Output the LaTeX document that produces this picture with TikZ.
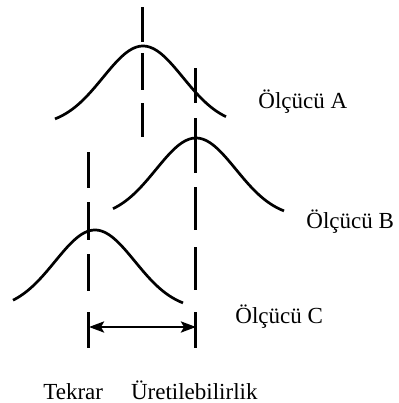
\documentclass[tikz,border=0pt]{standalone}
\usepackage{fontspec}
\setmainfont{Liberation Serif}
\usepackage{tikz}
\usetikzlibrary{arrows.meta,positioning}

\begin{document}
\begin{tikzpicture}[
    x=0.5pt, y=-0.5pt,
    bell/.style={line width=1.35pt, line join=round},
    guide/.style={line width=1.5pt},
    span/.style={line width=1.35pt, {Stealth[length=7.5pt,width=5.5pt,inset=1.5pt]}-{Stealth[length=7.5pt,width=5.5pt,inset=1.5pt]}},
    gauge/.style={font=\fontsize{11.5}{13.5}\selectfont, inner sep=0pt, anchor=base west}
]
    \useasboundingbox (0,0) rectangle (398,403);

    % Distributions of the three appraisers
    \draw[bell] plot[domain=55:226, samples=70] (\x, {126-80*exp(-(\x-143)^2/3200)});
    \draw[bell] plot[domain=113:284, samples=70] (\x, {218-80*exp(-(\x-196)^2/3200)});
    \draw[bell] plot[domain=13:183, samples=70] (\x, {310-80*exp(-(\x-95)^2/3200)});

    % Mean lines
    \foreach \a/\b in {7/42, 53/90, 103/137}
        \draw[guide] (143,\a) -- (143,\b);
    \foreach \a/\b in {68/103, 118/173, 187/230, 247/290, 312/348}
        \draw[guide] (196,\a) -- (196,\b);
    \foreach \a/\b in {152/188, 202/240, 254/291, 312/348}
        \draw[guide] (89,\a) -- (89,\b);

    % Spread between appraisers
    \coordinate (repL) at (89,327);
    \coordinate (repR) at (196,327);
    \draw[span] (repL) -- (repR);

    % Labels
    \node[gauge] (labA) at (258,108) {Ölçücü A};
    \node[gauge] (labB) at (306,228) {Ölçücü B};
    \node[gauge] (labC) at (235,323) {Ölçücü C};
    \node[gauge] (labRep) at (43,399) {Tekrar\hspace{14pt}Üretilebilirlik};
\end{tikzpicture}
\end{document}
